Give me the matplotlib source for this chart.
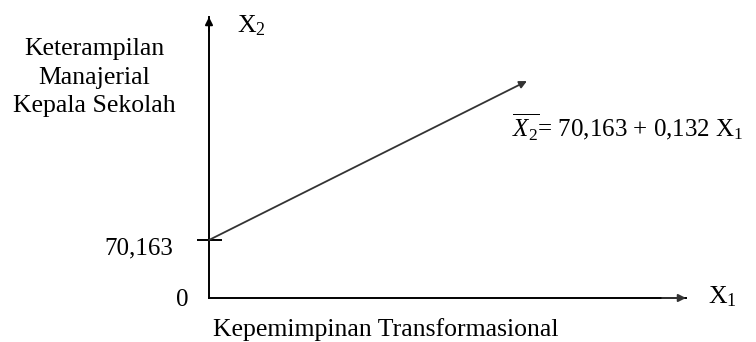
import matplotlib.pyplot as plt
from matplotlib.transforms import ScaledTranslation

plt.rcParams['font.family'] = ['Liberation Serif', 'DejaVu Serif']
plt.rcParams['mathtext.fontset'] = 'custom'
plt.rcParams['mathtext.rm'] = 'Liberation Serif'
plt.rcParams['mathtext.it'] = 'Liberation Serif:italic'

# regression X2 = 70.163 + 0.132 X1 (schematic)
intercept = 70.163
slope = 0.132
x_line = [0, 1457]
x_max = 2186
y_max = 340
y_tick_major = [0]
y_tick_major_labels = ['0']
y_tick_minor = [intercept]
y_tick_minor_labels = ['70,163']
x_label = 'Kepemimpinan Transformasional'
y_label = 'Keterampilan\nManajerial\nKepala Sekolah'
equation = r'$\overline{X_2}$= 70,163 + 0,132 X$_1$'

fig = plt.figure(figsize=(7.56, 3.42), dpi=100)
ax = fig.add_axes([209 / 756, 44 / 342, 477 / 756, 281 / 342])
ax.set_xlim(0, x_max)
ax.set_ylim(0, y_max)

for s in ['top', 'right']:
    ax.spines[s].set_visible(False)
for s in ['left', 'bottom']:
    ax.spines[s].set_linewidth(1.4)
    ax.spines[s].set_color('black')

ax.set_xticks([])
ax.set_yticks(y_tick_major, labels=y_tick_major_labels, fontsize=18)
ax.set_yticks(y_tick_minor, labels=y_tick_minor_labels, minor=True, fontsize=18)
ax.tick_params(axis='y', which='major', length=0, pad=15)
ax.tick_params(axis='y', which='minor', length=18, width=1.4, direction='inout', pad=17)
for lab in ax.get_yticklabels(minor=True):
    lab.set_transform(lab.get_transform() + ScaledTranslation(0, -4 / 72, fig.dpi_scale_trans))

# arrow heads on axes
ax.annotate('', xy=(0, 1), xytext=(0, 0.95), xycoords='axes fraction',
            arrowprops=dict(arrowstyle='-|>', color='black', lw=1.4, mutation_scale=11,
                            shrinkA=0, shrinkB=0))
ax.annotate('', xy=(1, 0), xytext=(0.95, 0), xycoords='axes fraction',
            arrowprops=dict(arrowstyle='-|>', color='#333333', lw=1.4, mutation_scale=11,
                            shrinkA=0, shrinkB=0))

# regression line
y_line = [intercept + slope * x for x in x_line]
ax.annotate('', xy=(x_line[1], y_line[1]), xytext=(x_line[0], y_line[0]),
            arrowprops=dict(arrowstyle='-|>', color='#333333', lw=1.3, mutation_scale=11,
                            shrinkA=0, shrinkB=0))

ax.text(0.0587, 0.9466, 'X$_2$', transform=ax.transAxes, fontsize=18.5, va='baseline', ha='left')
ax.text(1.046, -0.0178, 'X$_1$', transform=ax.transAxes, fontsize=18.5, va='baseline', ha='left')
ax.text(-0.240, 0.784, y_label, transform=ax.transAxes, fontsize=18.5, va='center', ha='center',
        linespacing=1.375)
ax.text(0.0084, -0.1352, x_label, transform=ax.transAxes, fontsize=18.5, va='baseline', ha='left')
ax.text(0.635, 0.573, equation, transform=ax.transAxes, fontsize=18, va='baseline', ha='left')

fig.savefig('out.png', dpi=100)
